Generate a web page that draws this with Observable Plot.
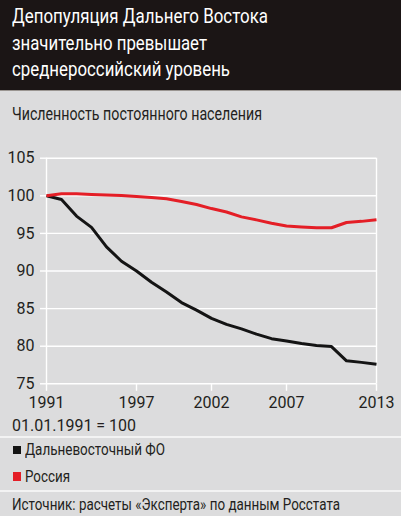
<!DOCTYPE html>
<html>
<head>
<meta charset="utf-8">
<script src="https://cdn.jsdelivr.net/npm/d3@7"></script>
<script src="https://cdn.jsdelivr.net/npm/@observablehq/plot@0.6"></script>
<style>
  html, body { margin: 0; padding: 0; }
  body { width: 401px; height: 516px; background: #dcdcdd; position: relative; overflow: hidden;
         font-family: Roboto, "Liberation Sans", sans-serif; color: #231f20; }
  #head { position: absolute; left: 0; top: 0; width: 401px; height: 91px; background: #1b1515; border-bottom: 1px solid #9a9591; box-sizing: border-box; }
  .t { position: absolute; left: 12px; white-space: nowrap; }
  .fit { font-family: "Liberation Sans Narrow", "Arial Narrow", Roboto, sans-serif; }
  .fit span { display: inline-block; transform-origin: 0 50%; }
  .tl { font-size: 19.5px; line-height: 26px; color: #fff; }
  #sub { top: 103.8px; font-size: 17.5px; line-height: 20px; }
  #base { top: 416.2px; font-size: 16px; line-height: 20px; }
  .leg { font-size: 16.5px; line-height: 20px; left: 25px; }
  .sw { position: absolute; left: 12.7px; width: 8px; height: 8.5px; }
  #src { top: 494.8px; font-size: 16.5px; line-height: 20px; }
  .sep { position: absolute; left: 0; width: 401px; height: 2px; background: #f3f3f3; }
  #chart { position: absolute; left: 0; top: 140px; }
</style>
</head>
<body>
<div id="head">
  <div class="t tl fit" style="top:4px" data-w="256"><span>Депопуляция Дальнего Востока</span></div>
  <div class="t tl fit" style="top:30.6px" data-w="195"><span>значительно превышает</span></div>
  <div class="t tl fit" style="top:56.6px" data-w="218"><span>среднероссийский уровень</span></div>
</div>
<div id="sub" class="t fit" data-w="250"><span>Численность постоянного населения</span></div>
<div id="chart"></div>
<div id="base" class="t">01.01.1991 = 100</div>
<div class="sep" style="top:436px"></div>
<div class="sw" style="top:445.7px;background:#141414"></div>
<div class="t leg fit" style="top:440.1px" data-w="140"><span>Дальневосточный ФО</span></div>
<div class="sw" style="top:472.3px;background:#e41e26"></div>
<div class="t leg fit" style="top:466.8px" data-w="45"><span>Россия</span></div>
<div class="sep" style="top:490px"></div>
<div id="src" class="t fit" data-w="328"><span>Источник: расчеты «Эксперта» по данным Росстата</span></div>
<script>
const years = [1991,1992,1993,1994,1995,1996,1997,1998,1999,2000,2001,2002,2003,2004,2005,2006,2007,2008,2009,2010,2011,2012,2013];
const farEast = [100,99.5,97.3,95.8,93.2,91.3,90.0,88.5,87.2,85.8,84.8,83.7,82.9,82.3,81.6,81.0,80.7,80.35,80.1,79.95,78.05,77.85,77.6];
const russia = [100,100.27,100.27,100.18,100.1,100.04,99.9,99.78,99.6,99.25,98.85,98.3,97.85,97.2,96.8,96.35,95.98,95.85,95.76,95.75,96.45,96.6,96.8];
const seriesNames = ["Дальневосточный ФО", "Россия"];
const seriesColors = ["#141414", "#e41e26"];
const xTicks = [1991, 1997, 2002, 2007, 2013];
const yTicks = [75, 80, 85, 90, 95, 100, 105];

const rows = [];
years.forEach((y, i) => {
  rows.push({year: y, value: farEast[i], series: seriesNames[0]});
  rows.push({year: y, value: russia[i], series: seriesNames[1]});
});

const chart = Plot.plot({
  width: 401,
  height: 280,
  marginLeft: 46,
  marginRight: 25,
  marginTop: 17.7,
  marginBottom: 36.7,
  style: {background: "transparent", fontFamily: "Roboto, 'Liberation Sans', sans-serif", fontSize: "16px", color: "#231f20"},
  x: {domain: [1991, 2013]},
  y: {domain: [75, 105]},
  color: {domain: seriesNames, range: seriesColors},
  marks: [
    Plot.ruleY(yTicks, {stroke: "white", strokeWidth: 1.4}),
    Plot.ruleX([1991, 2013], {stroke: "white", strokeWidth: 1.4}),
    Plot.axisY({ticks: yTicks, tickSize: 6, tickPadding: 6, stroke: "white", strokeWidth: 1.4, fill: "#231f20", label: null}),
    Plot.axisX({ticks: xTicks, tickSize: 7.5, tickPadding: 5, stroke: "white", strokeWidth: 1.4, fill: "#231f20", tickFormat: d => String(d), label: null}),
    Plot.line(rows, {x: "year", y: "value", z: "series", stroke: "series", strokeWidth: 3, strokeLinejoin: "round", strokeLinecap: "butt"})
  ]
});
document.getElementById("chart").appendChild(chart);

// fit condensed text to the widths seen in the reference
document.querySelectorAll(".fit").forEach(el => {
  const span = el.querySelector("span");
  const w = span.getBoundingClientRect().width;
  const target = +el.dataset.w;
  if (w > 0) span.style.transform = `scaleX(${target / w})`;
});
</script>
</body>
</html>
